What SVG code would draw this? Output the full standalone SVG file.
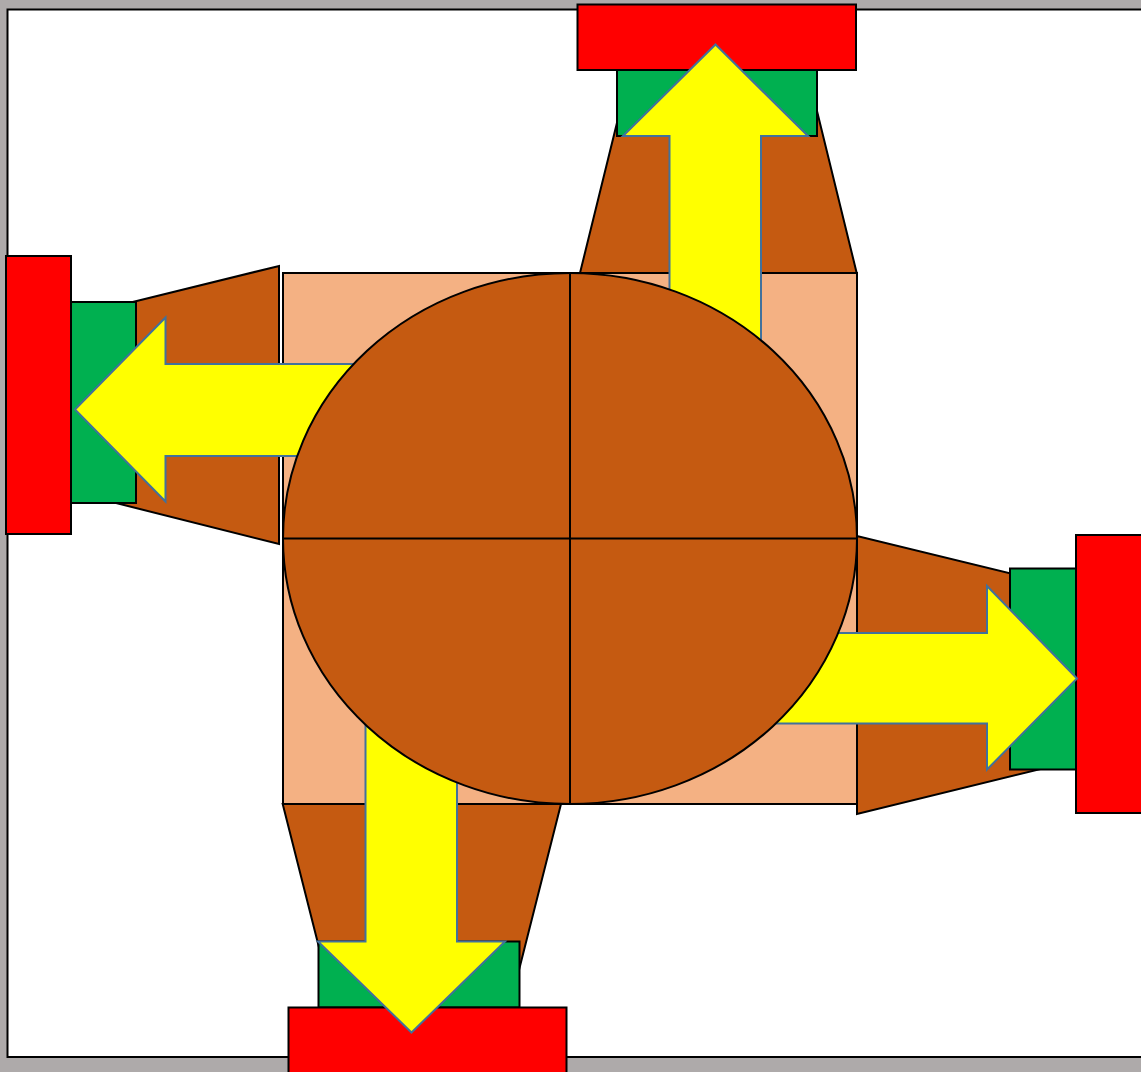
<svg xmlns="http://www.w3.org/2000/svg" width="1141" height="1072" viewBox="0 0 1141 1072">
  <style>
    .k{stroke:#000;stroke-width:2;stroke-linejoin:miter}
    .brown{fill:#c55a11}
    .green{fill:#00b050}
    .red{fill:#ff0000}
    .arrow{fill:#ffff00;stroke:#41719c;stroke-width:2}
  </style>
  <rect x="0" y="0" width="1141" height="1072" fill="#aeaaaa"/>
  <rect x="7.5" y="9.5" width="1150" height="1047.5" fill="#ffffff" class="k"/>

  <g id="arm-top">
    <polygon class="brown k" points="580,273 856.7,273 814.3,100 622.6,100"/>
    <rect class="green k" x="617" y="70" width="200" height="66"/>
    <rect class="red k" x="577.5" y="4.5" width="278.5" height="65.5"/>
  </g>
  <g id="arm-left">
    <polygon class="brown k" points="279,266 279,544 100,499 100,310"/>
    <rect class="green k" x="71" y="302" width="65" height="201"/>
    <rect class="red k" x="6" y="256" width="65" height="278"/>
  </g>
  <g id="arm-right">
    <polygon class="brown k" points="857,536 857,814 1050,766.7 1050,583"/>
    <rect class="green k" x="1010" y="568.5" width="66" height="201"/>
    <rect class="red k" x="1076" y="535" width="70" height="278"/>
  </g>
  <g id="arm-bottom">
    <polygon class="brown k" points="282.7,804 561,804 515.2,985 328.5,985"/>
    <rect class="green k" x="318.5" y="941.5" width="201" height="66"/>
    <rect class="red k" x="288.5" y="1007.5" width="278" height="70"/>
  </g>

  <g id="base">
    <rect x="283" y="273" width="574" height="531" fill="#f4b183" class="k"/>
  </g>

  <g id="arrows">
    <path class="arrow" d="M715.5,44.5 L808,136 L761,136 L761,540 L669.5,540 L669.5,136 L623,136 Z"/>
    <path class="arrow" d="M75,409.5 L165.5,317.5 L165.5,364 L570,364 L570,456 L165.5,456 L165.5,501.5 Z"/>
    <path class="arrow" d="M1077,678.5 L987,586 L987,633 L570,633 L570,723.5 L987,723.5 L987,769.5 Z"/>
    <path class="arrow" d="M411.5,1032.5 L505,941.5 L457,941.5 L457,540 L365.5,540 L365.5,941.5 L318,941.5 Z"/>
  </g>

  <g id="hub">
    <ellipse cx="570" cy="538.5" rx="287" ry="265.5" class="brown k"/>
    <line x1="570" y1="273" x2="570" y2="804" class="k"/>
    <line x1="283" y1="538.5" x2="857" y2="538.5" class="k"/>
  </g>
</svg>
